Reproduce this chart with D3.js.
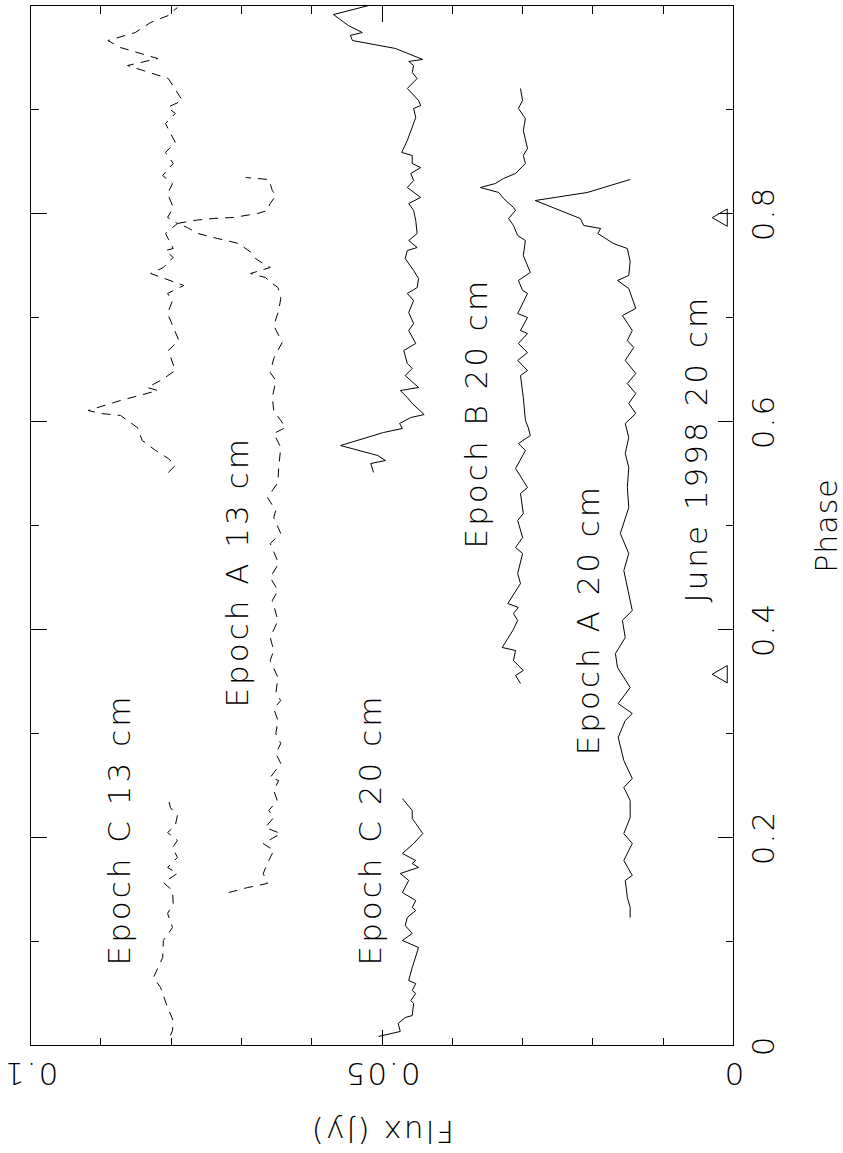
<!DOCTYPE html>
<html>
<head>
<meta charset="utf-8">
<script src="https://cdn.jsdelivr.net/npm/d3@7"></script>
<style>
  body { margin: 0; background: #fff; }
  svg text { font-family: "DejaVu Sans", sans-serif; font-weight: 200; fill: #000; }
  .tick line, .frame { stroke: #000; shape-rendering: crispEdges; }
</style>
</head>
<body>
<svg id="chart" width="843" height="1153"></svg>
<script>
// light curves, phase vs flux (Jy)
let epochC13Phase = [0.0096, 0.0144, 0.024, 0.0365, 0.0558, 0.0654, 0.0846, 0.101, 0.1135, 0.1269, 0.1365, 0.149, 0.1567, 0.1654, 0.1712, 0.1808, 0.1904, 0.1971, 0.2048, 0.2115, 0.2212, 0.2288, 0.2375,
    0.551, 0.5577, 0.5644, 0.5721, 0.5817, 0.5942, 0.6058, 0.6077, 0.6106, 0.6202, 0.6298, 0.6327, 0.6394, 0.649, 0.6683, 0.6779, 0.7038, 0.7163, 0.7231, 0.7308, 0.7423, 0.7481, 0.7577, 0.7644, 0.7663, 0.7808, 0.7904, 0.7962, 0.8058, 0.8192, 0.8288, 0.8365, 0.8481, 0.8587, 0.8683, 0.8865, 0.8962, 0.902, 0.9087, 0.9298, 0.9423, 0.949, 0.9596, 0.9663, 0.974, 0.9837, 0.9904, 0.9981];
let epochC13Flux = [0.0801, 0.0798, 0.0797, 0.0805, 0.0815, 0.0825, 0.0812, 0.0811, 0.0798, 0.0805, 0.0797, 0.0798, 0.0811, 0.0791, 0.0805, 0.0791, 0.0798, 0.0791, 0.0805, 0.0794, 0.0791, 0.0801, 0.0804,
    0.0804, 0.0794, 0.0804, 0.0822, 0.0841, 0.0848, 0.0872, 0.09, 0.0918, 0.0872, 0.0819, 0.0834, 0.0815, 0.0794, 0.0804, 0.0789, 0.0805, 0.0798, 0.0805, 0.0782, 0.0829, 0.0811, 0.0797, 0.0808, 0.0797, 0.0808, 0.0791, 0.0805, 0.0797, 0.0805, 0.0798, 0.0812, 0.0797, 0.0808, 0.0794, 0.0808, 0.0794, 0.0805, 0.0784, 0.0804, 0.0862, 0.0819, 0.0872, 0.089, 0.0851, 0.0829, 0.0804, 0.0791];

let epochA13Phase = [0.1471, 0.1519, 0.1558, 0.1654, 0.1779, 0.1875, 0.1942, 0.2038, 0.2096, 0.2192, 0.226, 0.2356, 0.2452, 0.2548, 0.2577, 0.2712, 0.2808, 0.2904, 0.3, 0.3125, 0.324, 0.3317, 0.3385, 0.3538, 0.3702, 0.3798, 0.3923, 0.4087, 0.4279, 0.4375, 0.45, 0.4635, 0.4827, 0.4923, 0.5077, 0.5144, 0.5269, 0.5413, 0.5558, 0.575, 0.5885, 0.5942, 0.6106, 0.6231, 0.6394, 0.6471, 0.6606, 0.676, 0.6923, 0.7067, 0.7183, 0.7288, 0.7327, 0.7385, 0.7423, 0.7481, 0.7519, 0.7567, 0.7615, 0.7712, 0.776, 0.7808, 0.7865, 0.7904, 0.7933, 0.7952, 0.7962, 0.8, 0.8029, 0.8096, 0.8173, 0.8221, 0.8327, 0.8346];
let epochA13Flux = [0.0718, 0.0691, 0.0663, 0.0669, 0.0661, 0.0654, 0.0669, 0.0644, 0.0666, 0.0654, 0.0661, 0.0649, 0.0654, 0.0647, 0.0659, 0.0644, 0.0651, 0.0644, 0.0651, 0.0648, 0.0654, 0.0644, 0.0651, 0.0648, 0.0659, 0.0654, 0.0659, 0.0648, 0.0656, 0.0648, 0.0659, 0.0647, 0.0659, 0.0644, 0.0654, 0.0651, 0.0663, 0.0648, 0.0647, 0.0644, 0.0654, 0.0637, 0.0654, 0.0656, 0.0651, 0.0659, 0.0654, 0.0642, 0.0654, 0.0647, 0.0644, 0.0648, 0.0656, 0.0666, 0.0687, 0.0659, 0.0669, 0.068, 0.0684, 0.0704, 0.0734, 0.0762, 0.0777, 0.0791, 0.0768, 0.074, 0.0711, 0.0677, 0.0663, 0.0659, 0.0651, 0.0656, 0.0661, 0.0694];

let epochC20Phase = [0.0087, 0.0135, 0.0212, 0.0269, 0.0288, 0.0404, 0.0433, 0.05, 0.0529, 0.0596, 0.0625, 0.075, 0.0942, 0.101, 0.1077, 0.1154, 0.1231, 0.1298, 0.1327, 0.1394, 0.1471, 0.1587, 0.1654, 0.1712, 0.175, 0.1779, 0.1846, 0.1942, 0.2038, 0.2135, 0.2183, 0.226, 0.2375,
    0.551, 0.5596, 0.5625, 0.5673, 0.5769, 0.5894, 0.5933, 0.5981, 0.6038, 0.6067, 0.6173, 0.6231, 0.6298, 0.6327, 0.6442, 0.651, 0.6558, 0.6683, 0.675, 0.6875, 0.6942, 0.7048, 0.7163, 0.7231, 0.7288, 0.7375, 0.7452, 0.7567, 0.7644, 0.7673, 0.774, 0.7808, 0.7933, 0.8029, 0.8096, 0.8154, 0.825, 0.8317, 0.8385, 0.8442, 0.8481, 0.8558, 0.8587, 0.8702, 0.8923, 0.901, 0.9038, 0.9087, 0.9202, 0.9298, 0.9356, 0.9423, 0.9462, 0.9481, 0.9587, 0.9663, 0.9712, 0.974, 0.9808, 0.9913, 1.0];
let epochC20Flux = [0.0505, 0.0474, 0.0477, 0.0467, 0.0457, 0.0455, 0.0459, 0.0452, 0.0457, 0.0452, 0.0462, 0.0457, 0.0448, 0.0471, 0.0457, 0.0467, 0.0464, 0.0452, 0.0457, 0.0452, 0.0471, 0.0462, 0.0474, 0.0448, 0.0457, 0.0452, 0.0471, 0.0455, 0.0442, 0.0452, 0.0457, 0.0457, 0.0471,
    0.0512, 0.0516, 0.0495, 0.0506, 0.0559, 0.0498, 0.0471, 0.0475, 0.0459, 0.044, 0.0457, 0.0464, 0.0474, 0.0448, 0.0467, 0.0457, 0.0464, 0.0469, 0.0452, 0.0462, 0.0455, 0.0462, 0.0455, 0.0464, 0.045, 0.0448, 0.0455, 0.0467, 0.0464, 0.045, 0.0462, 0.045, 0.0452, 0.0455, 0.0462, 0.0445, 0.0464, 0.0455, 0.0459, 0.0445, 0.0457, 0.0457, 0.0472, 0.0464, 0.0452, 0.0455, 0.0445, 0.0448, 0.0464, 0.045, 0.0457, 0.0455, 0.0462, 0.0442, 0.0481, 0.0542, 0.0545, 0.0528, 0.0548, 0.0569, 0.0519];

let epochB20Phase = [0.3481, 0.3558, 0.3606, 0.3702, 0.3798, 0.3827, 0.399, 0.4087, 0.4154, 0.4212, 0.425, 0.4442, 0.4538, 0.4731, 0.4788, 0.4885, 0.5048, 0.5115, 0.5308, 0.5365, 0.5548, 0.5721, 0.5788, 0.5865, 0.5942, 0.601, 0.6231, 0.6442, 0.649, 0.6587, 0.6663, 0.675, 0.6846, 0.6875, 0.7, 0.7038, 0.7231, 0.726, 0.7356, 0.7433, 0.7596, 0.774, 0.7788, 0.7885, 0.7952, 0.8029, 0.8058, 0.8144, 0.8202, 0.825, 0.8288, 0.8337, 0.8385, 0.8481, 0.8558, 0.8625, 0.8798, 0.8913, 0.901, 0.9087, 0.9202];
let epochB20Flux = [0.0303, 0.031, 0.0299, 0.0313, 0.031, 0.0329, 0.0314, 0.0307, 0.0313, 0.0306, 0.0321, 0.0303, 0.0307, 0.03, 0.031, 0.03, 0.0307, 0.0299, 0.0303, 0.0293, 0.031, 0.0296, 0.0306, 0.0289, 0.0292, 0.0296, 0.0299, 0.0303, 0.0293, 0.0307, 0.0293, 0.0306, 0.0293, 0.0303, 0.0293, 0.0307, 0.0293, 0.03, 0.0306, 0.0289, 0.0299, 0.0296, 0.0307, 0.0313, 0.032, 0.031, 0.0313, 0.0327, 0.0334, 0.036, 0.0339, 0.0327, 0.031, 0.0296, 0.0299, 0.0293, 0.0299, 0.0296, 0.0306, 0.03, 0.0303];

let epochA20Phase = [0.1231, 0.1327, 0.1423, 0.1587, 0.1635, 0.1779, 0.1942, 0.2038, 0.2192, 0.2356, 0.2481, 0.2567, 0.274, 0.2962, 0.3125, 0.3192, 0.3288, 0.3442, 0.3635, 0.3769, 0.3923, 0.4087, 0.4183, 0.4567, 0.4731, 0.4923, 0.5173, 0.5365, 0.5558, 0.5692, 0.5846, 0.5981, 0.6077, 0.6173, 0.6269, 0.6365, 0.6462, 0.6587, 0.6712, 0.6779, 0.6875, 0.7019, 0.7087, 0.7279, 0.7356, 0.7404, 0.7538, 0.7663, 0.7712, 0.7808, 0.7856, 0.7885, 0.7952, 0.8125, 0.8202, 0.8327];
let epochA20Flux = [0.0147, 0.0147, 0.0151, 0.0154, 0.0144, 0.0156, 0.0144, 0.0156, 0.0147, 0.0147, 0.0156, 0.0144, 0.0156, 0.0164, 0.0154, 0.0144, 0.0164, 0.0147, 0.0165, 0.0168, 0.0154, 0.0158, 0.0144, 0.0156, 0.0149, 0.0161, 0.0149, 0.0151, 0.0149, 0.0154, 0.0149, 0.0154, 0.0139, 0.0149, 0.0139, 0.0151, 0.0139, 0.0154, 0.0142, 0.0151, 0.0144, 0.0158, 0.0139, 0.0149, 0.0165, 0.0149, 0.0147, 0.0151, 0.0171, 0.0193, 0.0189, 0.0213, 0.0218, 0.0282, 0.0208, 0.0147];

// June 1998 markers
let june98Phase = [0.357, 0.796];
let june98Flux = [0.0016, 0.0016];

let phaseMajor = [0, 0.2, 0.4, 0.6, 0.8, 1.0];
let phaseMinor = [0.1, 0.3, 0.5, 0.7, 0.9];
let phaseLabels = ['0', '0.2', '0.4', '0.6', '0.8', ''];
let fluxMajor = [0, 0.05, 0.1];
let fluxMinor = [0.01, 0.02, 0.03, 0.04, 0.06, 0.07, 0.08, 0.09];
let fluxLabels = ['0', '0.05', '0.1'];

let seriesNames = ['Epoch C 13 cm', 'Epoch A 13 cm', 'Epoch C 20 cm', 'Epoch B 20 cm', 'Epoch A 20 cm', 'June 1998 20 cm'];
// label anchors, in phase / flux
let labelPhase = [0.077, 0.325, 0.077, 0.478, 0.279, 0.426];
let labelFlux = [0.0858, 0.0691, 0.0502, 0.035, 0.0192, 0.0037];

const W = 1040, H = 703;

var svg = d3.select('#chart');
// plot is drawn landscape and turned a quarter turn
var g = svg.append('g').attr('transform', 'translate(30.5,1045.5) rotate(-90)');

var x = d3.scaleLinear().domain([0, 1]).range([0, W]);
var y = d3.scaleLinear().domain([0, 0.1]).range([H, 0]);

function drawAxis(axis, tx, ty) {
    var a = g.append('g').attr('transform', 'translate(' + tx + ',' + ty + ')').call(axis.offset(0).tickSizeOuter(0));
    a.select('.domain').remove();
    return a;
}

// phase axis (bottom / top)
var xAxis = drawAxis(d3.axisBottom(x).tickValues(phaseMajor).tickSizeInner(-16).tickPadding(0)
    .tickFormat((d, i) => phaseLabels[i]), 0, H);
xAxis.selectAll('text').attr('y', 40).attr('dy', 0).attr('font-size', 31).attr('letter-spacing', 2);
drawAxis(d3.axisBottom(x).tickValues(phaseMinor).tickSizeInner(-8).tickFormat(''), 0, H);
drawAxis(d3.axisTop(x).tickValues(phaseMajor).tickSizeInner(-16).tickFormat(''), 0, 0);
drawAxis(d3.axisTop(x).tickValues(phaseMinor).tickSizeInner(-8).tickFormat(''), 0, 0);

// flux axis (left / right)
var yAxis = drawAxis(d3.axisLeft(y).tickValues(fluxMajor).tickSizeInner(-16)
    .tickFormat((d, i) => fluxLabels[i]), 0, 0);
yAxis.selectAll('text')
    .attr('x', null).attr('dy', 0)
    .attr('text-anchor', 'middle')
    .attr('transform', 'translate(-17,0) rotate(-90)')
    .attr('font-size', 31).attr('letter-spacing', 2);
drawAxis(d3.axisLeft(y).tickValues(fluxMinor).tickSizeInner(-8).tickFormat(''), 0, 0);
drawAxis(d3.axisRight(y).tickValues(fluxMajor).tickSizeInner(-16).tickFormat(''), W, 0);
drawAxis(d3.axisRight(y).tickValues(fluxMinor).tickSizeInner(-8).tickFormat(''), W, 0);

g.selectAll('.tick line').attr('stroke', '#000');

g.append('rect').attr('class', 'frame')
    .attr('x', 0).attr('y', 0).attr('width', W).attr('height', H)
    .attr('fill', 'none').attr('stroke-width', 1);

// axis titles
g.append('text')
    .attr('transform', 'translate(-75,' + (H / 2) + ') rotate(-90)')
    .attr('text-anchor', 'middle')
    .attr('font-size', 31).attr('letter-spacing', 2)
    .text('Flux (Jy)');
g.append('text')
    .attr('x', W / 2).attr('y', H + 103)
    .attr('text-anchor', 'middle')
    .attr('font-size', 30).attr('letter-spacing', 1)
    .text('Phase');

// split a curve where the phase wraps round
function segments(phase, flux) {
    var out = [], cur = [];
    phase.forEach((p, i) => {
        if (cur.length && p - cur[cur.length - 1][0] > 0.1) { out.push(cur); cur = []; }
        cur.push([p, flux[i]]);
    });
    out.push(cur);
    return out;
}

var line = d3.line().x(d => x(d[0])).y(d => y(d[1]));

var curves = [
    {p: epochC13Phase, f: epochC13Flux, dash: '9,7'},
    {p: epochA13Phase, f: epochA13Flux, dash: '9,7'},
    {p: epochC20Phase, f: epochC20Flux, dash: null},
    {p: epochB20Phase, f: epochB20Flux, dash: null},
    {p: epochA20Phase, f: epochA20Flux, dash: null}
];

curves.forEach(c => {
    g.append('g').selectAll('path')
        .data(segments(c.p, c.f))
        .enter()
        .append('path')
        .attr('d', line)
        .attr('fill', 'none')
        .attr('stroke', '#000')
        .attr('stroke-width', 1)
        .attr('stroke-dasharray', c.dash);
});

g.append('g').selectAll('path')
    .data(june98Phase)
    .enter()
    .append('path')
    .attr('transform', (d, i) => 'translate(' + x(d) + ',' + y(june98Flux[i]) + ')')
    .attr('d', d3.symbol(d3.symbolTriangle, 130))
    .attr('fill', 'none')
    .attr('stroke', '#000');

g.append('g').selectAll('text')
    .data(seriesNames)
    .enter()
    .append('text')
    .attr('x', (d, i) => x(labelPhase[i]))
    .attr('y', (d, i) => y(labelFlux[i]))
    .attr('font-size', 31)
    .attr('letter-spacing', 3)
    .text(d => d);
</script>
</body>
</html>
